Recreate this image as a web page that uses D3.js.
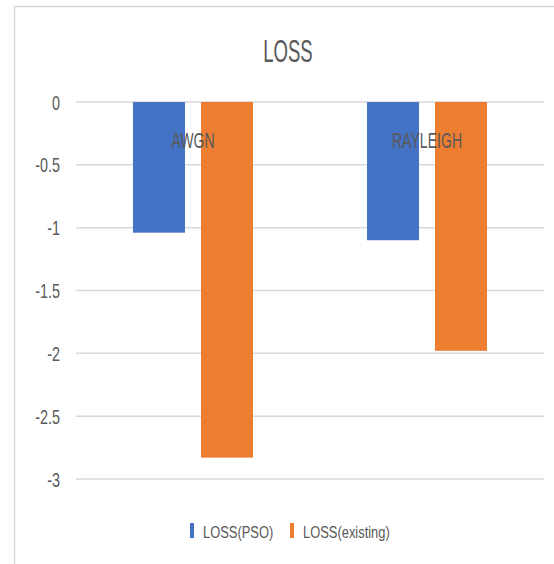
<!DOCTYPE html>
<html><head><meta charset="utf-8">
<script src="https://cdn.jsdelivr.net/npm/d3@7"></script>
<style>
html,body{margin:0;padding:0;background:#fff;}
svg{display:block;}
text{font-family:"Liberation Sans",Arial,sans-serif;fill:#595959;}
</style></head><body>
<svg id="chart" width="554" height="564"></svg>
<script>
const title = "LOSS";
const categories = ["AWGN", "RAYLEIGH"];
const seriesNames = ["LOSS(PSO)", "LOSS(existing)"];
const lossPSO = [-1.04, -1.10];
const lossExisting = [-2.83, -1.98];
const yTicks = [0, -0.5, -1, -1.5, -2, -2.5, -3];
const colors = ["#4472C4", "#ED7D31"];

const seriesValues = [lossPSO, lossExisting];
const svg = d3.select("#chart");

// frame
svg.append("line").attr("x1",14).attr("x2",554).attr("y1",6.5).attr("y2",6.5)
  .attr("stroke","#d9d9d9").attr("stroke-width",1.5);
svg.append("line").attr("x1",14.5).attr("x2",14.5).attr("y1",6).attr("y2",564)
  .attr("stroke","#d9d9d9").attr("stroke-width",1.5);

const y = d3.scaleLinear().domain([0, -3]).range([102, 479]);
const x0 = d3.scaleBand().domain(categories).range([76, 544]).paddingInner(0).paddingOuter(0);
const x1 = d3.scaleBand().domain(seriesNames).range([0, x0.bandwidth()]).paddingInner(0.235).paddingOuter(0.838);

function stext(g, str, x, yy, size, sx, anchor){
  return g.append("text")
    .attr("transform", `translate(${x},${yy}) scale(${sx},1)`)
    .attr("text-anchor", anchor)
    .attr("font-size", size)
    .text(str);
}

// gridlines
const grid = svg.append("g");
grid.selectAll("line").data(yTicks).join("line")
  .attr("x1", 76).attr("x2", 544)
  .attr("y1", d => y(d)).attr("y2", d => y(d))
  .attr("stroke", "#d9d9d9").attr("stroke-width", 1.5);

// y labels via axis
const yAxis = d3.axisLeft(y).tickValues(yTicks).tickSize(0).tickPadding(0).tickFormat(d => String(d));
const ya = svg.append("g").attr("transform", "translate(60,0)").call(yAxis);
ya.select(".domain").remove();
ya.selectAll("text")
  .attr("x", null).attr("dy", null)
  .attr("transform", "translate(0,7) scale(0.72,1)")
  .attr("font-size", 20).attr("fill", "#595959")
  .attr("font-family", '"Liberation Sans",Arial,sans-serif')
  .attr("text-anchor", "end");

// bars
const groups = svg.append("g").selectAll("g").data(categories).join("g")
  .attr("transform", d => `translate(${x0(d)},0)`);
groups.selectAll("rect").data((c, i) => seriesNames.map((s, j) => ({s, v: seriesValues[j][i], j})))
  .join("rect")
  .attr("x", d => x1(d.s))
  .attr("width", x1.bandwidth())
  .attr("y", d => y(Math.max(0, d.v)))
  .attr("height", d => Math.abs(y(d.v) - y(0)))
  .attr("fill", d => colors[d.j]);

// category labels
categories.forEach(c => {
  const cx = x0(c) + x0.bandwidth()/2;
  stext(svg, c, cx, 148, 22, 0.64, "middle");
});

// title
stext(svg, title, 288, 62, 32, 0.58, "middle");

// legend
const legendX = [190, 290];
seriesNames.forEach((s, j) => {
  svg.append("rect").attr("x", legendX[j]).attr("y", 523).attr("width", 4).attr("height", 15).attr("fill", colors[j]);
  stext(svg, s, legendX[j] + 13, 538, 17, 0.76, "start");
});
</script>
</body></html>
